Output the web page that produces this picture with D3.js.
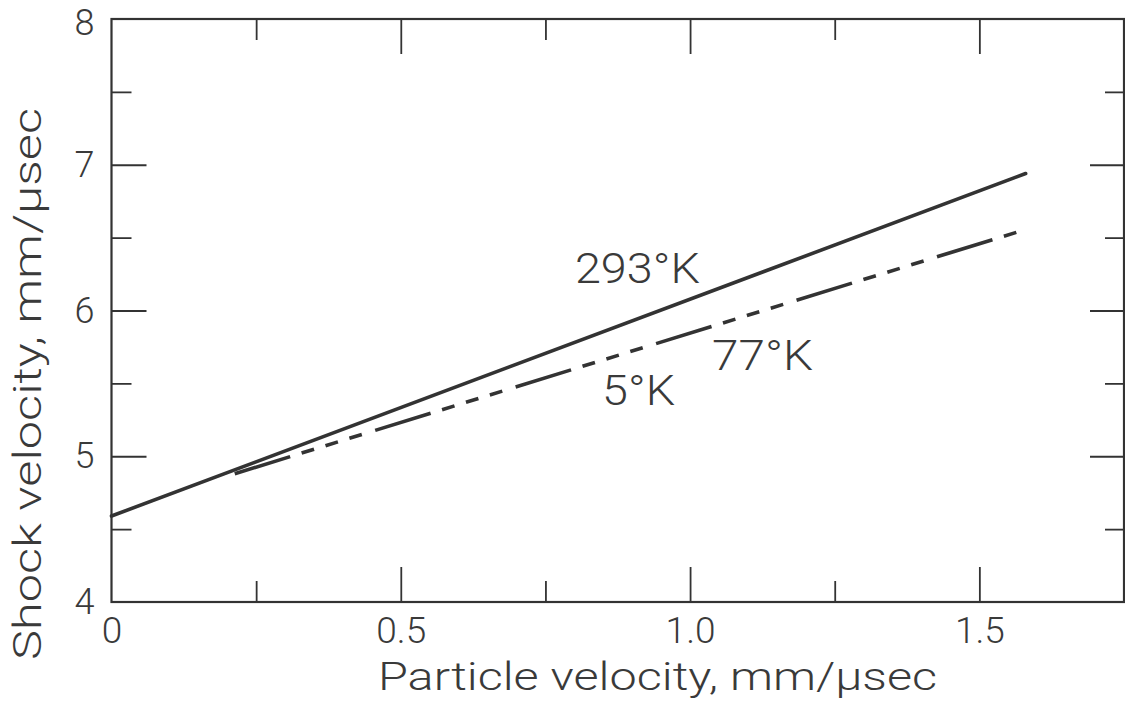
<!DOCTYPE html>
<html>
<head>
<meta charset="utf-8">
<script src="https://cdn.jsdelivr.net/npm/d3@7/dist/d3.min.js"></script>
<style>
  html, body { margin: 0; padding: 0; background: #ffffff; }
  svg { display: block; }
  text { font-family: Roboto, "Liberation Sans", sans-serif; font-weight: 300; fill: #3a3a3a; }
</style>
</head>
<body>
<svg id="chart" width="1125" height="723"></svg>
<script>
// Hugoniot lines: shock velocity vs particle velocity at three temperatures
const seriesNames = ["293°K", "77°K", "5°K"];
const line293 = [[0, 4.59], [1.58, 6.94]];
const line77  = [[0.213, 4.88], [1.58, 6.556]];
const line5   = [[0.213, 4.88], [1.58, 6.556]];

const xMajorTicks = [0.5, 1.0, 1.5];
const xMinorTicks = [0.25, 0.75, 1.25];
const xTickLabels = [0, 0.5, 1.0, 1.5];
const yMajorTicks = [5, 6, 7];
const yMinorTicks = [4.5, 5.5, 6.5, 7.5];
const yTickLabels = [4, 5, 6, 7, 8];

// label anchor points in data units [x, y]
const labelPos = [[0.801, 6.19], [1.038, 5.59], [0.848, 5.35]];
const labelWidths = [125, 101, 73];

const ink = "#333333";
const svg = d3.select("#chart");

const x = d3.scaleLinear().domain([0, 1.75]).range([111.5, 1124]);
const y = d3.scaleLinear().domain([4, 8]).range([602, 19]);

const L = x(0), R = x(1.75), T = y(8), B = y(4);

// inward ticks on all four sides
function tickAxis(axisGen, vals, size, tx, ty) {
  const g = svg.append("g")
    .attr("transform", `translate(${tx},${ty})`)
    .call(axisGen.tickValues(vals).tickSizeInner(-size).tickSizeOuter(0).tickFormat(""));
  g.select(".domain").remove();
  g.selectAll(".tick line").attr("stroke", ink).attr("stroke-width", 1.8);
  return g;
}
tickAxis(d3.axisBottom(x), xMajorTicks, 35, 0, B);
tickAxis(d3.axisBottom(x), xMinorTicks, 21, 0, B);
tickAxis(d3.axisTop(x), xMajorTicks, 35, 0, T);
tickAxis(d3.axisTop(x), xMinorTicks, 21, 0, T);
tickAxis(d3.axisLeft(y), yMajorTicks, 35, L, 0);
tickAxis(d3.axisLeft(y), yMinorTicks, 20, L, 0);
tickAxis(d3.axisRight(y), yMajorTicks, 34, R, 0);
tickAxis(d3.axisRight(y), yMinorTicks, 19, R, 0);

// frame
svg.append("rect")
  .attr("x", L).attr("y", T)
  .attr("width", R - L).attr("height", B - T)
  .attr("fill", "none").attr("stroke", ink).attr("stroke-width", 2.2);

// tick labels
const xLab = svg.append("g")
  .attr("transform", `translate(0,${B})`)
  .call(d3.axisBottom(x).tickValues(xTickLabels).tickSize(0).tickPadding(15)
    .tickFormat(d => d === 0 ? "0" : d3.format(".1f")(d)));
xLab.select(".domain").remove();
xLab.selectAll("text").attr("font-size", 37).attr("fill", "#3a3a3a")
  .style("font-family", "Roboto, sans-serif").style("font-weight", 300);

const yLab = svg.append("g")
  .attr("transform", `translate(${L},0)`)
  .call(d3.axisLeft(y).tickValues(yTickLabels).tickSize(0).tickPadding(17)
    .tickFormat(d3.format("d")));
yLab.select(".domain").remove();
yLab.selectAll("text").attr("font-size", 36).attr("fill", "#3a3a3a")
  .style("font-family", "Roboto, sans-serif").style("font-weight", 300);
// keep the topmost label clear of the page edge
yLab.selectAll(".tick").filter(d => d === 8).select("text").attr("dy", "0.42em");

// axis titles
svg.append("text")
  .attr("x", (378 + 937) / 2).attr("y", 690)
  .attr("text-anchor", "middle")
  .attr("font-size", 38)
  .attr("textLength", 559).attr("lengthAdjust", "spacingAndGlyphs")
  .text("Particle velocity, mm/μsec");

svg.append("text")
  .attr("transform", "translate(41,384) rotate(-90)")
  .attr("text-anchor", "middle")
  .attr("font-size", 38)
  .attr("textLength", 552).attr("lengthAdjust", "spacingAndGlyphs")
  .text("Shock velocity, mm/μsec");

// curves
const lineGen = d3.line().x(d => x(d[0])).y(d => y(d[1]));

svg.append("path").datum(line293)
  .attr("d", lineGen).attr("fill", "none")
  .attr("stroke", ink).attr("stroke-width", 3.6).attr("stroke-linecap", "round");

// 77°K: long dashes
svg.append("path").datum(line77)
  .attr("d", lineGen).attr("fill", "none")
  .attr("stroke", ink).attr("stroke-width", 3.6).attr("stroke-linecap", "butt")
  .attr("stroke-dasharray", "58 89");

// 5°K: short dashes filling the gaps of the long-dash line
svg.append("path").datum(line5)
  .attr("d", lineGen).attr("fill", "none")
  .attr("stroke", ink).attr("stroke-width", 3.6).attr("stroke-linecap", "butt")
  .attr("stroke-dasharray", "13 12 13 12 13 84")
  .attr("stroke-dashoffset", -70);

// curve labels
svg.selectAll("text.curve-label")
  .data(seriesNames)
  .join("text")
  .attr("class", "curve-label")
  .attr("x", (d, i) => x(labelPos[i][0]))
  .attr("y", (d, i) => y(labelPos[i][1]))
  .attr("font-size", 43)
  .attr("textLength", (d, i) => labelWidths[i])
  .attr("lengthAdjust", "spacingAndGlyphs")
  .text(d => d);
</script>
</body>
</html>
